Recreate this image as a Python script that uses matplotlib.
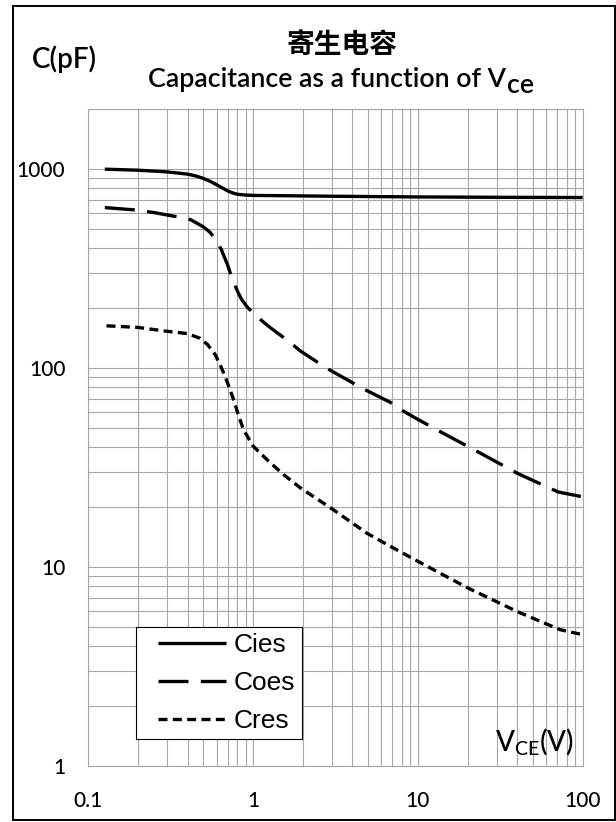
import numpy as np
import matplotlib
matplotlib.use('Agg')
import matplotlib.pyplot as plt
from matplotlib.legend_handler import HandlerLine2D
from matplotlib.ticker import LogLocator, NullFormatter
from matplotlib.patches import Rectangle

# ---------------- data ----------------
cies_v = [0.126, 0.2, 0.3, 0.4, 0.45, 0.5, 0.55, 0.6, 0.65, 0.7, 0.75, 0.8, 0.9, 1.0, 1.6, 3, 10, 30, 100]
cies_c = [1000, 988, 969, 944, 924, 898, 868, 835, 805, 778, 760, 748, 741, 738, 735, 731, 725, 722, 720]

coes_v = [0.126, 0.19, 0.25, 0.35, 0.42, 0.5, 0.55, 0.585, 0.641, 0.7, 0.742, 0.81, 0.852, 0.92, 1.02,
          1.23, 1.39, 1.63, 1.93, 2.78, 4.65, 6.78, 7.8, 9.6, 13.9, 23.8, 40.6, 71, 100]
coes_c = [641, 624, 605, 575, 556, 512, 480, 448, 395, 330, 285, 240, 221, 203, 186,
          163, 151, 137, 122, 100, 78.7, 67.3, 62, 56.2, 47.5, 37.4, 29.4, 23.8, 22.5]

cres_v = [0.129, 0.2, 0.3, 0.4, 0.477, 0.53, 0.588, 0.63, 0.675, 0.72, 0.76, 0.82, 0.874, 1.0, 1.21,
          1.5, 1.93, 3.06, 4.88, 6.78, 10.8, 20.1, 40.6, 72.9, 100]
cres_c = [163, 160, 153, 149, 141, 131, 117, 104, 91, 79, 69.5, 57, 49, 40.5, 34.7,
          29.5, 25, 19.4, 14.8, 12.7, 10.3, 7.83, 5.93, 4.83, 4.56]

series_names = ['Cies', 'Coes', 'Cres']
x_ticks = [0.1, 1, 10, 100]
x_labels = ['0.1', '1', '10', '100']
y_ticks = [1, 10, 100, 1000]
y_labels = ['1', '10', '100', '1000']
title_cn = '寄生电容'
title_en = 'Capacitance as a function of V'
title_sub = 'ce'
y_title = 'C(pF)'

# ---------------- layout helpers ----------------
W, H, DPI = 616, 822, 100
def fx(px):
    return px / W
def fy(py):
    return 1 - py / H

TXT = 'Lato'
plt.rcParams['font.family'] = [TXT, 'DejaVu Sans']
plt.rcParams['mathtext.fontset'] = 'custom'
plt.rcParams['mathtext.rm'] = TXT
plt.rcParams['mathtext.it'] = TXT

fig = plt.figure(figsize=(W / DPI, H / DPI), dpi=DPI)
fig.patch.set_facecolor('white')

L, R, T, B = 88.3, 582.7, 109.3, 765.7
ax = fig.add_axes([fx(L), fy(B), fx(R) - fx(L), fy(T) - fy(B)])
ax.set_xscale('log')
ax.set_yscale('log')
ax.set_xlim(0.1, 100)
ax.set_ylim(1, 2000)

grid_c = '#a6a6a6'
ax.xaxis.set_minor_locator(LogLocator(base=10, subs=np.arange(2, 10)))
ax.yaxis.set_minor_locator(LogLocator(base=10, subs=np.arange(2, 10)))
ax.xaxis.set_minor_formatter(NullFormatter())
ax.yaxis.set_minor_formatter(NullFormatter())
ax.set_xticks(x_ticks)
ax.set_xticklabels(x_labels, fontweight=500)
ax.set_yticks(y_ticks)
ax.set_yticklabels(y_labels, fontweight=500)
ax.grid(True, which='both', color=grid_c, lw=0.8)
ax.set_axisbelow(True)
for s in ax.spines.values():
    s.set_color(grid_c)
    s.set_linewidth(0.8)
ax.tick_params(which='both', length=0)
ax.tick_params(axis='y', labelsize=15, pad=16.5)
ax.tick_params(axis='x', labelsize=15, pad=18.5)

lw = 2.4
l1, = ax.plot(cies_v, cies_c, color='black', lw=lw, linestyle='-', solid_capstyle='butt')
l2, = ax.plot(coes_v, coes_c, color='black', lw=lw, linestyle=(0, (9, 3.7)))
l3, = ax.plot(cres_v, cres_c, color='black', lw=lw, linestyle=(0, (2.7, 1.6)))

class LeadHandler(HandlerLine2D):
    def __init__(self, lead, **kw):
        super().__init__(**kw)
        self.lead = lead
    def get_xdata(self, legend, xdescent, ydescent, width, height, fontsize):
        xd, xm = super().get_xdata(legend, xdescent, ydescent, width, height, fontsize)
        return [-xdescent + self.lead, -xdescent + width], xm

lead = 15.7 * 0.72
hm = {l: LeadHandler(lead) for l in (l1, l2, l3)}
leg = ax.legend([l1, l2, l3], series_names, loc='upper left',
                bbox_to_anchor=((136 - L) / (R - L), (B - 626.7) / (B - T)),
                prop={'family': 'Liberation Sans', 'size': 19},
                frameon=True, fancybox=False, framealpha=1, edgecolor='black',
                borderpad=0.24, labelspacing=0.53, handlelength=3.17,
                handletextpad=0.30, borderaxespad=0, handler_map=hm)
leg.get_frame().set_linewidth(0.8)

# ---------------- texts ----------------
cx = 341.5
fig.text(fx(cx), fy(45), title_cn, ha='center', va='center', fontsize=20,
         fontweight='bold', family=['Noto Sans CJK SC', 'DejaVu Sans'])

fig.canvas.draw()
r = fig.canvas.get_renderer()

# y-axis title, sized to the reference width
t_y = fig.text(fx(32), fy(59), y_title, ha='left', va='center', fontsize=20,
               family=TXT, fontweight=600)
wy = t_y.get_window_extent(r).width
t_y.set_fontsize(20 * 65 / wy)

# English title with subscript, sized to the reference width
fs2 = 19
t_main = fig.text(0, fy(87), title_en, fontsize=fs2, family=TXT, fontweight=600, va='baseline')
t_sub = fig.text(0, fy(93), title_sub, fontsize=fs2, family=TXT, fontweight=600, va='baseline')
w1 = t_main.get_window_extent(r).width
w2 = t_sub.get_window_extent(r).width
k = 386 / (w1 + w2 + 1)
fs2 *= k
t_main.set_fontsize(fs2)
t_sub.set_fontsize(fs2)
w1 = t_main.get_window_extent(r).width
w2 = t_sub.get_window_extent(r).width
x0 = cx - (w1 + w2 + 1) / 2
t_main.set_x(fx(x0))
t_sub.set_x(fx(x0 + w1 + 1))

fig.text(fx(573.3), fy(750), r'$\mathregular{V_{CE}(V)}$', ha='right', va='baseline',
         fontsize=20, family=TXT, fontweight=500)

fig.add_artist(Rectangle((fx(13), fy(820)), fx(615) - fx(13), fy(6) - fy(820),
                         transform=fig.transFigure, fill=False, lw=1.4, ec='black'))

fig.savefig('out.png', dpi=DPI)
